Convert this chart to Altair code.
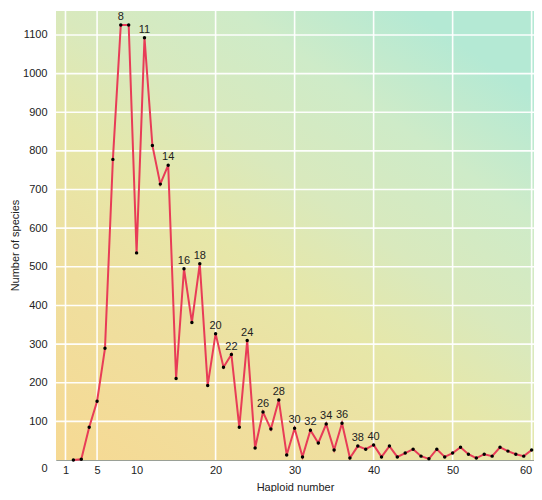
import altair as alt
import pandas as pd

haploid = list(range(2, 61))
species = [0, 2, 85, 152, 289, 778, 1126, 1126, 536, 1093, 814, 714, 763, 211,
           495, 356, 508, 193, 327, 240, 273, 85, 309, 31, 124, 80, 155, 13, 82,
           8, 77, 44, 93, 26, 95, 5, 36, 28, 39, 8, 36, 8, 18, 28, 10, 3, 28, 8,
           18, 33, 15, 5, 15, 10, 33, 23, 15, 10, 26]
labeled = [8, 11, 14, 16, 18, 20, 22, 24, 26, 28, 30, 32, 34, 36, 38, 40]
x_ticks = [1, 5, 10, 20, 30, 40, 50, 60]
x_grid = [1, 5, 20, 30, 40, 50, 60]
y_ticks = [100, 200, 300, 400, 500, 600, 700, 800, 900, 1000, 1100]
x_domain = [-0.2, 60.3]
y_domain = [0, 1162]

df = pd.DataFrame({"haploid": haploid, "species": species})
lab_df = df[df["haploid"].isin(labeled)].copy()
lab_df["label"] = lab_df["haploid"].astype(str)

xs = alt.Scale(domain=x_domain, nice=False, zero=False)
ys = alt.Scale(domain=y_domain, nice=False)

x_axis = alt.Axis(values=x_ticks, title="Haploid number", grid=False,
                  ticks=False, domain=False, labelPadding=4, labelFlush=5,
                  titleY=27, titleBaseline="middle",
                  titleFontWeight="normal", titleFontSize=11)
y_axis = alt.Axis(values=y_ticks, title="Number of species", grid=False,
                  ticks=False, domain=False, labelPadding=9, format="d",
                  titleX=-41, titleY=234, titleBaseline="middle",
                  titleFontWeight="normal", titleFontSize=11)


def X(field):
    return alt.X(field, scale=xs, axis=x_axis, title="Haploid number")


def Y(field):
    return alt.Y(field, scale=ys, axis=y_axis, title="Number of species")


bg_df = pd.DataFrame({"x0": [x_domain[0]], "x1": [x_domain[1]],
                      "y0": [y_domain[0]], "y1": [y_domain[1]]})
grad = alt.Gradient(
    gradient="linear",
    stops=[alt.GradientStop(color="#f6d993", offset=0),
           alt.GradientStop(color="#efdf9f", offset=0.28),
           alt.GradientStop(color="#e6e7a9", offset=0.48),
           alt.GradientStop(color="#d9e9bd", offset=0.64),
           alt.GradientStop(color="#ceebc8", offset=0.82),
           alt.GradientStop(color="#b4e9d4", offset=1)],
    x1=0, y1=1, x2=0.75, y2=0,
)
bg = alt.Chart(bg_df).mark_rect(color=grad).encode(
    x=X("x0:Q"), x2="x1", y=Y("y0:Q"), y2="y1",
)

vgrid = alt.Chart(pd.DataFrame({"t": x_grid})).mark_rule(
    color="white", strokeWidth=1.6, opacity=0.95
).encode(x=X("t:Q"))
hgrid = alt.Chart(pd.DataFrame({"t": y_ticks})).mark_rule(
    color="white", strokeWidth=1.6, opacity=0.95
).encode(y=Y("t:Q"))

line = alt.Chart(df).mark_line(color="#e83c57", strokeWidth=2).encode(
    x=X("haploid:Q"), y=Y("species:Q"))
pts = alt.Chart(df).mark_point(filled=True, color="black", size=12, opacity=1).encode(
    x=X("haploid:Q"), y=Y("species:Q"))
labels = alt.Chart(lab_df).mark_text(fontSize=11, dy=-8, color="#222",
                                     font="Liberation Sans").encode(
    x=X("haploid:Q"), y=Y("species:Q"), text="label:N")
zero = alt.Chart(pd.DataFrame({"x": [0], "y": [0], "t": ["0"]})).mark_text(
    fontSize=11, dx=-13, dy=9, color="#222", font="Liberation Sans").encode(
    x=X("x:Q"), y=Y("y:Q"), text="t:N")

chart = alt.layer(bg, vgrid, hgrid, line, pts, labels, zero).properties(
    width=478, height=449,
    autosize=alt.AutoSizeParams(type="none"),
    padding={"left": 48, "top": 3, "right": 0, "bottom": 32},
).configure_view(stroke="#9aa096", strokeWidth=1).configure_axis(
    labelFont="Liberation Sans", titleFont="Liberation Sans",
    labelFontSize=11, labelColor="#222", titleColor="#222",
)

chart.save("out.html", embed_options={"renderer": "svg", "actions": False})
